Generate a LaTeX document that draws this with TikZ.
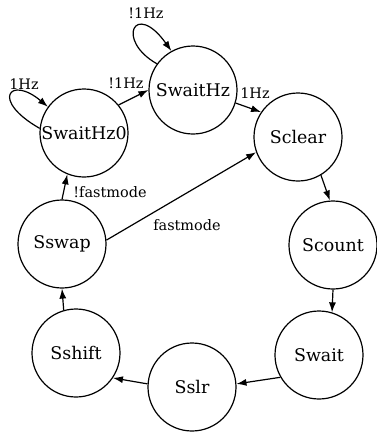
\documentclass[tikz,border=0pt]{standalone}
\usepackage{fontspec}
\setmainfont{DejaVu Serif}
\usetikzlibrary{arrows.meta}
\tikzset{
  state/.style={draw, circle, line width=1.2bp, minimum size=88bp, inner sep=0pt, font=\fontsize{17.5}{20}\selectfont},
  lbl/.style={inner sep=0pt, font=\fontsize{14.5}{17}\selectfont},
  arr/.style={line width=1.2bp, -{Latex[length=10bp,width=7bp]}}
}
\begin{document}
\begin{tikzpicture}[x=1bp,y=-1bp]
\useasboundingbox (0,0) rectangle (377,432);
\node[state] (h0) at (84,133) {SwaitHz0};
\node[state] (hz) at (193,90) {SwaitHz};
\node[state] (cl) at (298,137) {Sclear};
\node[state] (sw) at (62,244) {Sswap};
\node[state] (co) at (333,245) {Scount};
\node[state] (wa) at (319,355) {Swait};
\node[state] (sl) at (192,387) {Sslr};
\node[state] (sh) at (76,353) {Sshift};

\draw[arr] (h0.174) .. controls (-10,100) and (10,75) .. (h0.144);
\draw[arr] (hz.144) .. controls (115,40) and (135,0) .. (hz.119);
\draw[arr] (h0.39) -- (hz.180);
\draw[arr] (hz.-17) -- (cl.146);
\draw[arr] (cl.-59) -- (co.94);
\draw[arr] (co.-90) -- (wa.73);
\draw[arr] (wa.210) -- (sl.4);
\draw[arr] (sl.176) -- (sh.-34);
\draw[arr] (sh.106) -- (sw.-90);
\draw[arr] (sw.90) -- (h0.248);
\draw[arr] (sw.5) -- (cl.200);

\node[lbl] (l1) at (24,84) {1Hz};
\node[lbl] (l2) at (126,83) {!1Hz};
\node[lbl] (l3) at (146,13) {!1Hz};
\node[lbl] (l4) at (255,93) {1Hz};
\node[lbl] (l5) at (110,192) {!fastmode};
\node[lbl] (l6) at (187,225) {fastmode};
\end{tikzpicture}
\end{document}
